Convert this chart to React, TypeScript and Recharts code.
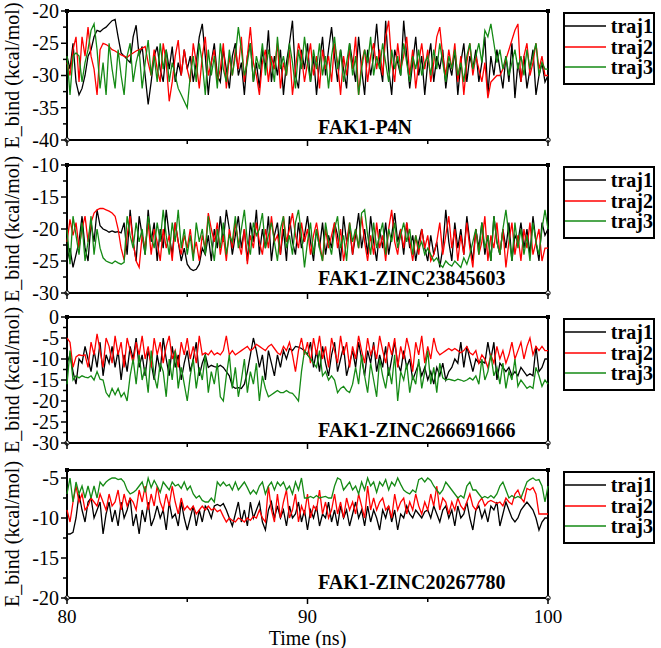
import { LineChart, Line, XAxis, YAxis, ReferenceArea, ReferenceDot, Legend } from "recharts";

const SERIF = "Liberation Serif, DejaVu Serif, Times New Roman, serif";

// frames every 0.125 ns between 80 and 100 ns
const time = Array.from({ length: 161 }, (_, i) => 80 + i * 0.125);

const trajNames = ["traj1", "traj2", "traj3"];
const trajColors = ["#000000", "#ff0000", "#158a15"];
const timeTicks = [80, 85, 90, 95, 100];

// FAK1-P4N
const p4nTraj1 = [
  -27, -29, -25, -31, -33, -32, -30, -27,
  -26, -24, -23, -23.2, -22.8, -22.5, -22, -21.5,
  -21.3, -24, -26.5, -27, -27.5, -28, -24, -22.2,
  -27, -25.5, -30, -34.5, -31, -27, -25.5, -29,
  -31, -26, -29, -25.5, -31, -28, -30, -26,
  -29, -27, -31, -28, -24, -22, -27, -33,
  -28, -25, -30, -31, -26, -29, -32, -27,
  -25, -30, -28, -33, -27, -25, -31, -28,
  -32, -26, -29, -23, -31, -27, -30, -26,
  -33, -28, -25, -21.5, -30, -32, -26, -29,
  -25, -31, -27, -33, -28, -24, -30, -26,
  -22.5, -27, -31, -26, -29, -32, -25, -28,
  -31, -24, -29, -33, -26, -30, -27, -22,
  -28, -31, -21.5, -29, -33, -26, -28, -30,
  -21.5, -27, -32, -28, -24, -30, -27, -33,
  -28, -25, -31, -27, -29, -26, -32, -28,
  -30, -26, -33, -28, -25, -31, -27, -29,
  -26, -31, -28, -24, -33, -27, -30, -26,
  -29, -32, -27, -31, -25, -33.5, -28, -31,
  -27, -32, -29, -26, -33, -30, -28, -31,
  -30,
];
const p4nTraj2 = [
  -28, -30, -26, -24, -31, -24, -27, -22.5,
  -27, -29, -33, -26, -25, -25.2, -25.5, -26,
  -26.2, -26.5, -26.8, -27, -27.2, -26.8, -26.5, -26.2,
  -26, -25.8, -25.5, -28, -30, -26, -29, -31,
  -25, -28, -34, -31, -27, -24.5, -30, -26,
  -29, -31, -25, -28, -32, -27, -24, -30,
  -28, -26, -31, -29, -25, -32, -27, -30,
  -26, -29, -24, -31, -27, -22.5, -28, -30,
  -33, -28, -26, -31, -27, -29, -25, -32,
  -28, -30, -26, -33, -29, -25, -27, -31,
  -28, -25, -30, -27, -32, -26, -29, -27,
  -31, -25, -28, -33, -27, -30, -26, -29,
  -24, -33, -28, -26, -31, -27, -25, -29,
  -26, -30, -24, -21.5, -28, -31, -25, -29,
  -27, -24, -30, -26, -32, -28, -25, -29,
  -26, -31, -28, -24, -22.5, -27, -30, -26,
  -29, -25, -31, -27, -33, -28, -25, -30,
  -27, -29, -31, -28, -33.5, -31, -30.5, -30,
  -30, -29, -27.5, -26, -24.5, -23, -22, -31,
  -27, -25, -30, -28, -25, -29, -27, -30,
  -30,
];
const p4nTraj3 = [
  -27, -33, -27, -26.5, -27, -31, -28, -26,
  -23, -22, -26, -32, -28, -33, -25, -29,
  -32, -26, -30, -33, -27, -25, -31, -28,
  -26, -32, -28, -24.5, -30, -27, -31, -25,
  -29, -26, -31, -28, -30, -32, -33, -34,
  -35, -30, -27, -31, -25, -28, -33, -26,
  -30, -27, -32, -25, -29, -31, -26, -30,
  -27, -22.5, -26, -30, -28, -25, -31, -27,
  -29, -25, -30, -26, -28, -31, -24, -29,
  -27, -30, -25, -28, -32, -26, -29, -24,
  -28, -31, -26, -29, -25, -30, -27, -32,
  -27, -24, -29, -26, -31, -28, -25, -30,
  -27, -33, -29, -26, -28, -24, -30, -27,
  -29, -25, -28, -31, -26, -29, -27, -30,
  -25, -28, -31, -27, -29, -26, -30, -28,
  -27, -30, -26, -29, -25, -28, -31, -27,
  -29, -26, -30, -28, -31, -27, -25, -29,
  -27, -25, -28, -23, -24, -22, -25, -28,
  -26, -29, -27, -30, -28, -26, -29, -27,
  -30, -26, -29, -27, -25, -30, -28, -29,
  -29,
];

// FAK1-ZINC23845603
const z238Traj1 = [
  -25, -23, -26, -24, -22, -18, -23, -25,
  -19, -22, -17, -19.5, -20, -20.2, -20.5, -20.3,
  -20.5, -20.4, -20.6, -19, -24, -17, -22, -25,
  -18, -21, -24, -17, -22, -19, -25, -20,
  -23, -17, -21, -24, -19, -22, -25, -23,
  -25.5, -26.2, -26.5, -26.3, -25.5, -23, -24, -21,
  -25, -20, -23, -18, -22, -17, -20, -24,
  -21, -18, -23, -20, -25, -19, -22, -17,
  -24, -20, -23, -18, -25, -21, -19, -24,
  -20, -25, -18, -22, -24, -19, -23, -21,
  -18, -22, -25, -20, -23, -19, -24, -21,
  -23, -19, -21, -25, -18, -22, -20, -24,
  -21, -17.5, -23, -20, -24, -18, -22, -25,
  -20, -23, -19, -24, -21, -17.5, -22, -20,
  -24, -19, -23, -21, -25, -22, -20, -23,
  -25, -21, -24, -22, -26, -23, -17, -22,
  -25, -19, -23, -20, -24, -18, -22, -25,
  -20, -23, -19, -24, -21, -25, -18, -22,
  -24, -20, -23, -19, -25, -21, -22, -19,
  -23, -20, -24, -18, -22, -25, -19, -21,
  -20,
];
const z238Traj2 = [
  -22, -18.5, -21, -19, -23, -20, -18, -22,
  -19, -17.5, -17, -16.8, -16.8, -17, -17.2, -17.5,
  -18, -20, -23, -24.8, -21, -18, -22, -25,
  -26, -21, -23, -19, -24, -20, -22, -25,
  -20, -23, -21, -25, -19, -22, -24, -21,
  -23, -20, -24, -22, -25, -21, -23, -17.5,
  -20, -22, -19, -24, -21, -25, -20, -23,
  -19, -22, -24, -20, -25.5, -21, -23, -19,
  -22, -24, -20, -23, -18, -22, -21, -24,
  -18, -22, -20, -17.5, -21, -23, -19, -22,
  -20, -24, -21, -19, -22, -25, -20, -23,
  -21, -19, -23, -20, -25, -22, -19, -24,
  -20, -23, -18, -22, -25, -21, -24, -19,
  -23, -21, -25, -20, -17, -22, -24, -20,
  -23, -19, -22, -25, -21, -24, -20, -23,
  -21, -25, -24, -22, -19, -24, -21, -18,
  -23, -20, -25, -21, -24, -19, -23, -26,
  -20, -24, -22, -18, -25, -21, -23, -19,
  -24, -20, -26, -22, -19, -24, -21, -25,
  -20, -23, -19, -24, -22, -20, -25, -23,
  -23,
];
const z238Traj3 = [
  -20, -25.5, -18, -21, -24, -19, -25, -22,
  -18, -24, -20, -23, -24.5, -25, -25.2, -25.4,
  -25, -25.3, -25.5, -25.2, -18, -21, -23, -19,
  -22, -20, -24, -18, -21, -23, -19, -22,
  -17, -21, -24, -19, -22, -17, -23, -20,
  -24, -21, -25, -19, -22, -20, -24, -18,
  -22, -25, -20, -23, -19, -24, -21, -22,
  -18, -23, -20, -17, -22, -24, -19, -21,
  -20, -17.5, -23, -21, -19, -22, -25, -20,
  -18, -23, -21, -24, -19, -17, -21, -26,
  -22, -19, -24, -20, -23, -25, -19, -22,
  -24, -20, -18, -23, -21, -25, -19, -22,
  -20, -23, -17.5, -17, -21, -24, -19, -23,
  -21, -19, -24, -20, -22, -19, -23, -21,
  -19, -22, -20, -24, -21, -23, -22, -24,
  -23, -24, -25, -24.5, -25.5, -26, -25, -25.5,
  -25.8, -25, -25.5, -26, -24.5, -25.5, -24, -22,
  -20, -24, -19, -23, -21, -25, -18, -22,
  -24, -20, -17, -21, -25, -19, -23, -20,
  -24, -21, -25, -19, -22, -24, -20, -17,
  -20,
];

// FAK1-ZINC266691666
const z266Traj1 = [
  -11, -9, -13, -16, -10, -11, -7, -10,
  -13, -8, -12, -6, -14, -9, -11, -7,
  -12, -8, -15, -9, -13, -7, -10, -5,
  -12, -9, -14, -8, -11, -15, -9, -13,
  -5, -10, -14, -7, -12, -9, -15, -11,
  -8, -13, -10, -6, -14, -11, -9, -12,
  -11.5, -11.8, -12, -11.5, -12, -13, -14, -16.5,
  -17, -16.8, -17, -16, -13, -9, -5, -8,
  -12, -9, -15, -8, -11, -14, -9, -12,
  -8, -10, -7.5, -8, -7, -7.2, -7.5, -8,
  -9, -6, -12, -8, -13, -7, -11, -14,
  -9, -6, -13, -10, -7, -14, -11, -8,
  -12, -6, -10, -14, -8, -11, -6, -13,
  -9, -12, -7, -14, -10, -6, -11, -13,
  -8, -12, -10, -15, -13, -11, -14, -12,
  -15, -13, -16, -12, -14, -11, -15, -13,
  -12, -10, -11, -6, -12, -7, -10, -13,
  -10, -11, -10.5, -11, -6, -10, -6, -15,
  -11, -12, -13, -12, -14, -13, -14, -12,
  -13, -14, -13.5, -14, -7, -13, -12, -10,
  -10,
];
const z266Traj2 = [
  -5, -6, -12, -9.5, -9, -9.2, -9, -12,
  -6, -9, -4, -8, -12, -5, -7, -11,
  -4.5, -9, -6, -12, -5, -8, -11, -6,
  -9, -4.5, -10, -7, -12, -5, -9, -6,
  -11, -7, -4.5, -10, -8, -12, -6, -9,
  -5, -10, -7, -11, -4.5, -9, -8.5, -9,
  -8, -9, -8.5, -9, -8, -4.5, -9, -8,
  -9, -8.5, -8, -7.5, -7, -8, -7.5, -6.5,
  -7, -7.5, -8, -7, -6.5, -7.5, -8.5, -9,
  -7, -8, -6, -9, -13, -8, -5, -9,
  -6, -11, -5, -9, -4.5, -10, -7, -12,
  -5, -8, -11, -4.5, -9, -6, -12, -7,
  -10, -4.5, -8, -11, -5, -9, -7, -10,
  -4.5, -8, -11, -6, -9, -5, -12, -7,
  -10, -5, -8, -13, -6, -9, -4.5, -11,
  -7, -10, -5, -8, -9, -8.5, -8, -7.5,
  -8, -7.5, -8, -8.5, -8, -7, -8.5, -9,
  -8, -11, -9, -10, -12, -9, -11, -7,
  -10, -8, -11, -9, -6, -10, -8, -6,
  -10, -7, -5, -9, -7, -8, -7, -8,
  -8,
];
const z266Traj3 = [
  -16, -8, -15, -14, -14.5, -14, -14.3, -14.5,
  -14, -15, -13, -14.8, -15, -18, -19, -17,
  -18.5, -17, -19, -18, -20, -14, -10, -16,
  -9, -15, -12, -18, -8, -14, -17, -11,
  -13, -19, -10, -15, -8, -17, -12, -16,
  -20, -14, -10, -17, -12, -15, -9, -18,
  -13, -16, -11, -19, -20, -14, -9, -17,
  -12, -19, -15, -10, -18, -13, -16, -11,
  -20, -14, -17, -19, -18.5, -18, -17.5, -18,
  -18, -17.5, -18, -18.2, -19, -20, -13, -8,
  -9, -10, -11, -12, -8, -14, -13, -15,
  -14, -15, -18, -17, -16.5, -17.5, -18, -16,
  -12, -16, -9, -14, -18, -11, -15, -19,
  -10, -14, -17, -12, -16, -9, -20, -13,
  -15, -11, -18, -14, -16, -10, -17, -13,
  -8, -16, -12, -18, -11, -14.5, -15, -14.8,
  -15, -15.2, -14.8, -15, -15.3, -15, -14.5, -15,
  -14, -16, -10, -15, -13, -9, -14, -12,
  -16, -11, -17, -13, -15, -10, -16.5, -15,
  -16, -17, -16.5, -17, -12, -14, -16.5, -15,
  -16,
];

// FAK1-ZINC20267780
const z202Traj1 = [
  -12, -12, -11.8, -10, -7, -9, -10.5, -8,
  -7.5, -10, -9, -8, -12, -9.5, -8, -10.5,
  -9, -11, -8, -10, -9, -7.5, -11, -9.5,
  -12, -9, -10.5, -8, -11, -10, -8.5, -10,
  -9, -11.5, -8, -10, -9.5, -11, -8, -10,
  -11.5, -10, -8.5, -11, -9, -10.5, -8.5, -9,
  -10, -8.5, -8.3, -8.5, -8.2, -9, -10, -11,
  -9.5, -8, -10.5, -9, -11, -8, -10, -9,
  -8, -10.5, -11.5, -9, -8, -10, -8.5, -10,
  -9, -11, -8.5, -10, -9.5, -8, -10.5, -9,
  -11.5, -9, -10, -8.5, -11, -9.5, -10, -8,
  -10.5, -9, -11, -8.5, -10, -9, -11, -9.5,
  -8, -10, -9, -11, -8.5, -10.5, -9, -10,
  -11.5, -9, -10, -8.5, -10.5, -9, -11.5, -9.5,
  -10, -8.5, -9.5, -10, -9, -9.5, -10, -9.2,
  -9, -10, -8.5, -9.5, -10.5, -9, -8.5, -10,
  -9, -11, -8.5, -10, -9.5, -8, -10, -11.5,
  -9, -8.5, -10, -9, -10.5, -8.5, -9, -8,
  -11, -9.5, -8, -9, -10, -10.5, -10, -9,
  -8.5, -8, -8.5, -9, -10, -11.5, -10.5, -10,
  -10,
];
const z202Traj2 = [
  -9, -10.5, -8, -6, -8, -7, -9, -8.5,
  -7.5, -8, -8.5, -7, -8, -9, -7, -8.5,
  -8, -6.5, -9, -7, -8.5, -7.5, -8, -9,
  -6.5, -8, -6, -9, -7, -8.5, -6, -8,
  -9, -7, -8.5, -6, -8, -9.5, -7.5, -9,
  -8.5, -9, -8.5, -9.5, -9, -8.5, -9, -8.5,
  -9, -8.8, -9.2, -9, -9.8, -10.5, -10, -10.3,
  -10.5, -10, -10.2, -10.5, -10, -10.3, -9.8, -10,
  -9, -10, -10.5, -6, -9, -10.5, -7, -10,
  -8, -6.5, -10, -9, -7, -10.5, -8.5, -9.5,
  -7, -10, -8.5, -9, -6.5, -9.5, -8, -10,
  -9, -7, -9.5, -8, -10, -7.5, -9, -8,
  -9.5, -7, -8.5, -10, -6, -9, -7.5, -9,
  -8, -7.5, -9, -8.5, -10, -7, -9, -8,
  -7.5, -9.5, -8, -9, -7, -8.5, -9.5, -8,
  -9, -7, -8.5, -6, -9, -7.5, -8, -9.5,
  -8, -9, -7.5, -8.5, -9, -8, -7, -8.5,
  -9, -8, -7.5, -8.5, -8, -7.8, -8, -8.2,
  -8, -8.5, -7.5, -8, -8.3, -7, -6.5, -7.5,
  -8, -6.3, -6.5, -6.2, -7, -9.5, -9.5, -9.5,
  -9.5,
];
const z202Traj3 = [
  -7, -5, -8, -5.5, -7, -6, -7.5, -6,
  -7.5, -6, -7.5, -5.5, -6, -5.5, -5.2, -5,
  -5, -5.2, -5.1, -5.5, -6.5, -7, -6.8, -6.5,
  -6, -5.5, -6.8, -5, -6.2, -5.3, -6, -6.8,
  -5.5, -6, -6.5, -5.5, -6, -5.8, -6.3, -5.5,
  -6.5, -6, -7, -7.5, -7.2, -7.8, -8, -8,
  -7.5, -8, -5.5, -6, -5.5, -6, -5.8, -6.5,
  -5.5, -6.5, -6, -5.5, -6.2, -7, -6.5, -7,
  -6, -5.5, -7, -6, -5.5, -6.5, -5.5, -6,
  -5.5, -6.5, -6, -7, -5.5, -6.5, -5, -7.5,
  -7.5, -7.3, -7.5, -7.2, -7.5, -7.4, -7.3, -7.5,
  -7.5, -6, -5, -5.2, -6.5, -6, -5.5, -6.5,
  -6, -7, -5.5, -6.5, -5, -6, -5.5, -6.8,
  -5.5, -6, -5.2, -6.5, -5.5, -6, -5, -5.8,
  -6.5, -6.8, -7, -6.5, -6.8, -5.2, -5, -5.5,
  -5, -5.3, -6, -6.5, -7, -6.5, -5.5, -6,
  -6.5, -7, -7.5, -7.2, -7.5, -6, -5.5, -6.5,
  -6.5, -7, -7.5, -7.3, -7.5, -7.2, -7.5, -7,
  -6, -5.5, -6.5, -7.5, -7.2, -7.5, -7.3, -7.5,
  -6.5, -5.5, -5.2, -5, -5.3, -5.2, -6, -8,
  -6,
];

const p4nTicks = [-40, -37.5, -35, -32.5, -30, -27.5, -25, -22.5, -20];
const z238Ticks = [-30, -27.5, -25, -22.5, -20, -17.5, -15, -12.5, -10];
const z266Ticks = [-30, -27.5, -25, -22.5, -20, -17.5, -15, -12.5, -10, -7.5, -5, -2.5, 0];
const z202Ticks = [-20, -17.5, -15, -12.5, -10, -7.5, -5];

const panels = [
  { title: "FAK1-P4N", plotTop: 11, plotHeight: 129, domain: [-40, -20], ticks: p4nTicks, titleGap: 6.5, series: [p4nTraj1, p4nTraj2, p4nTraj3] },
  { title: "FAK1-ZINC23845603", plotTop: 165, plotHeight: 128, domain: [-30, -10], ticks: z238Ticks, titleGap: 8, series: [z238Traj1, z238Traj2, z238Traj3] },
  { title: "FAK1-ZINC266691666", plotTop: 317, plotHeight: 126, domain: [-30, 0], ticks: z266Ticks, titleGap: 6.5, series: [z266Traj1, z266Traj2, z266Traj3] },
  { title: "FAK1-ZINC20267780", plotTop: 470, plotHeight: 128, domain: [-20, -4], ticks: z202Ticks, titleGap: 9.5, series: [z202Traj1, z202Traj2, z202Traj3] },
];

const TOP_PAD = 30;

const EnergyTick = (props: any) => {
  const { x, y, payload } = props;
  const major = payload.value % 5 === 0;
  return (
    <g>
      <line x1={x} x2={x - (major ? 6 : 4)} y1={y} y2={y} stroke="#000" strokeWidth={1.5} />
      {major && (
        <text x={x - 8} y={y} dy="0.34em" textAnchor="end" style={{ fontFamily: SERIF }} fontSize={20} fill="#000">
          {payload.value}
        </text>
      )}
    </g>
  );
};

const TimeTick = (props: any) => {
  const { x, y, payload, showLabel } = props;
  const major = payload.value % 10 === 0;
  return (
    <g>
      <line x1={x} x2={x} y1={y} y2={y + (major ? 6 : 4)} stroke="#000" strokeWidth={1.5} />
      {showLabel && major && (
        <text x={x} y={y + 25} textAnchor="middle" style={{ fontFamily: SERIF }} fontSize={19} fill="#000">
          {payload.value}
        </text>
      )}
    </g>
  );
};

const energyTitle = (props: any) => {
  const { viewBox } = props;
  const cy = viewBox.y + viewBox.height / 2;
  return (
    <text x={18.5} y={cy} transform={`rotate(-90, 18.5, ${cy})`} textAnchor="middle" style={{ fontFamily: SERIF }} fontSize={20} fill="#000">
      E_bind (kcal/mol)
    </text>
  );
};

const timeTitle = (props: any) => {
  const { viewBox } = props;
  return (
    <text x={viewBox.x + viewBox.width / 2} y={viewBox.y + 47} textAnchor="middle" style={{ fontFamily: SERIF }} fontSize={20} fill="#000">
      Time (ns)
    </text>
  );
};

const TrajLegend = (props: any) => {
  const { payload } = props;
  return (
    <div
      style={{
        boxSizing: "border-box",
        width: 92,
        height: 73,
        border: "2px solid #000",
        background: "#fff",
        paddingTop: 2,
        fontFamily: SERIF,
        fontWeight: "bold",
        fontSize: 20,
        color: "#000",
      }}
    >
      {(payload || []).map((entry: any) => (
        <div key={entry.value} style={{ display: "flex", alignItems: "center", height: 20.5 }}>
          <svg width={42} height={4} style={{ display: "block" }}>
            <line x1={0} y1={2} x2={42} y2={2} stroke={entry.color} strokeWidth={1.5} />
          </svg>
          <span style={{ marginLeft: 5, lineHeight: "20px" }}>{entry.value}</span>
        </div>
      ))}
    </div>
  );
};

const cornerSquare = (p: any) => <rect x={p.cx - 2} y={p.cy - 2} width={4} height={4} fill="#000" />;
const cornerCircle = (p: any) => <circle cx={p.cx} cy={p.cy} r={2.2} fill="#fff" stroke="#000" strokeWidth={1} />;

const Panel = ({ panel, last }: { panel: any; last: boolean }) => {
  const [lo, hi] = panel.domain;
  const axisHeight = last ? 50 : 40;
  const rows = time.map((t, i) => ({
    t,
    traj1: panel.series[0][i],
    traj2: panel.series[1][i],
    traj3: panel.series[2][i],
  }));
  return (
    <div style={{ position: "absolute", left: 0, top: panel.plotTop - TOP_PAD }}>
      <LineChart
        width={661}
        height={TOP_PAD + panel.plotHeight + axisHeight}
        data={rows}
        margin={{ top: TOP_PAD, right: 113, bottom: 0, left: 0 }}
        style={{ fontFamily: SERIF }}
      >
        <XAxis
          dataKey="t"
          type="number"
          domain={[80, 100]}
          ticks={timeTicks}
          interval={0}
          height={axisHeight}
          axisLine={false}
          tickLine={false}
          tickSize={0}
          tickMargin={0}
          tick={<TimeTick showLabel={last} />}
          label={last ? timeTitle : undefined}
        />
        <YAxis
          type="number"
          domain={[lo, hi]}
          ticks={panel.ticks}
          interval={0}
          width={67}
          allowDataOverflow
          axisLine={false}
          tickLine={false}
          tickSize={0}
          tickMargin={0}
          tick={<EnergyTick />}
          label={energyTitle}
        />
        <ReferenceArea
          x1={80}
          x2={100}
          y1={lo}
          y2={hi}
          fill="none"
          fillOpacity={0}
          stroke="#000"
          strokeWidth={2}
          label={(p: any) => (
            <text
              x={318}
              y={p.viewBox.y + p.viewBox.height - panel.titleGap}
              style={{ fontFamily: SERIF }}
              fontWeight="bold"
              fontSize={20}
              fill="#000"
            >
              {panel.title}
            </text>
          )}
        />
        {trajNames.map((name, k) => (
          <Line
            key={name}
            type="linear"
            dataKey={name}
            name={name}
            stroke={trajColors[k]}
            strokeWidth={1.3}
            dot={false}
            isAnimationActive={false}
          />
        ))}
        <ReferenceDot x={80} y={hi} r={2} shape={cornerSquare} />
        <ReferenceDot x={100} y={hi} r={2} shape={cornerSquare} />
        <ReferenceDot x={80} y={lo} r={2} shape={cornerCircle} />
        <ReferenceDot x={100} y={lo} r={2} shape={cornerCircle} />
        <Legend
          layout="horizontal"
          align="center"
          verticalAlign="middle"
          width={92}
          content={<TrajLegend />}
          wrapperStyle={{ left: 563, top: TOP_PAD + 1, width: 92 }}
        />
      </LineChart>
    </div>
  );
};

export default function App() {
  return (
    <div style={{ position: "absolute", left: 0, top: 0, width: 661, height: 648, background: "#fff", overflow: "hidden", fontFamily: SERIF }}>
      {panels.map((p, i) => (
        <Panel key={p.title} panel={p} last={i === panels.length - 1} />
      ))}
    </div>
  );
}
